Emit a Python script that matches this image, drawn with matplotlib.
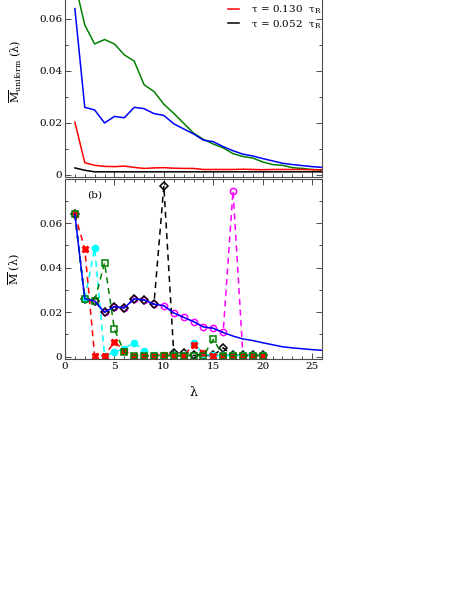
import numpy as np
import matplotlib
matplotlib.use("Agg")
import matplotlib.pyplot as plt
from matplotlib.ticker import MultipleLocator, FuncFormatter

plt.rcParams['font.family'] = ['DejaVu Serif']
plt.rcParams['mathtext.fontset'] = 'dejavuserif'

# ---------------- data ----------------
lam_full = list(range(1, 27))
M_blue = [0.064, 0.026, 0.025, 0.020, 0.0225, 0.022, 0.026, 0.0255, 0.0236, 0.0229,
          0.0197, 0.0177, 0.0158, 0.0134, 0.0128, 0.0109, 0.0093, 0.0080, 0.0073, 0.0063,
          0.0054, 0.0045, 0.0040, 0.0036, 0.0032, 0.0029]
M_green = [0.074, 0.0577, 0.0504, 0.0521, 0.0504, 0.0462, 0.0438, 0.0347, 0.0321, 0.0272,
           0.0237, 0.0199, 0.0161, 0.0137, 0.0119, 0.0104, 0.0082, 0.0071, 0.0065, 0.0050,
           0.0040, 0.0037, 0.0028, 0.0025, 0.0021, 0.0019]
M_red = [0.0203, 0.0047, 0.0037, 0.0033, 0.0032, 0.0034, 0.0029, 0.0025, 0.0027, 0.0028,
         0.0026, 0.0025, 0.0025, 0.0021, 0.0021, 0.0021, 0.0021, 0.0022, 0.0021, 0.0020,
         0.0021, 0.0021, 0.0021, 0.0021, 0.0020, 0.0020]
M_black = [0.0027, 0.0018, 0.0012, 0.0012, 0.0012, 0.0012, 0.0012, 0.0012, 0.0012, 0.0012,
           0.0012, 0.0012, 0.0012, 0.0012, 0.0012, 0.0012, 0.0012, 0.0012, 0.0012, 0.0012,
           0.0012, 0.0012, 0.0012, 0.0012, 0.0012, 0.0012]
legend_labels = ['τ = 0.520  τ$_{\\rm R}$', 'τ = 0.260  τ$_{\\rm R}$',
                 'τ = 0.130  τ$_{\\rm R}$', 'τ = 0.052  τ$_{\\rm R}$']

lam_b = list(range(1, 21))
M_k2 = [0.064, 0.0484, 0.0005, 0.0005, 0.0067, 0.0028, 0.0005, 0.0005, 0.0005, 0.0010,
        0.0005, 0.0005, 0.0055, 0.0017, 0.0005, 0.0005, 0.0005, 0.0005, 0.0005, 0.0005]
M_k3 = [0.064, 0.026, 0.0488, 0.0005, 0.0020, 0.0037, 0.0064, 0.0027, 0.0008, 0.0006,
        0.0006, 0.0006, 0.0063, 0.0012, 0.0006, 0.0006, 0.0006, 0.0006, 0.0006, 0.0006]
M_k4 = [0.064, 0.026, 0.025, 0.0422, 0.0124, 0.0020, 0.0005, 0.0005, 0.0005, 0.0005,
        0.0005, 0.0005, 0.0005, 0.0005, 0.0078, 0.0005, 0.0005, 0.0005, 0.0005, 0.0005]
M_k10 = [0.064, 0.026, 0.025, 0.020, 0.0225, 0.022, 0.026, 0.0255, 0.0236, 0.0767,
         0.0018, 0.0018, 0.0006, 0.0006, 0.0006, 0.0040, 0.0006, 0.0006, 0.0006, 0.0006]
M_k17 = [0.064, 0.026, 0.025, 0.020, 0.0225, 0.022, 0.026, 0.0255, 0.0236, 0.0229,
         0.0197, 0.0177, 0.0158, 0.0134, 0.0128, 0.0109, 0.0746, 0.0005, 0.0005, 0.0005]

# ---------------- figure ----------------
fig = plt.figure(figsize=(4.68, 6.05), dpi=100)
L, W = 65 / 468, 257 / 468
ax1 = fig.add_axes([L, (605 - 176.5) / 605, W, 209.5 / 605])
ax2 = fig.add_axes([L, (605 - 359) / 605, W, 180 / 605])

frame_col = '0.3'
fs = 7.5

def style(ax):
    ax.set_xlim(0, 26)
    ax.xaxis.set_major_locator(MultipleLocator(5))
    ax.xaxis.set_minor_locator(MultipleLocator(1))
    ax.yaxis.set_major_locator(MultipleLocator(0.02))
    ax.yaxis.set_minor_locator(MultipleLocator(0.01))
    ax.tick_params(which='both', direction='in', top=True, right=True,
                   color=frame_col, width=0.7, labelsize=fs, pad=2)
    ax.tick_params(which='major', length=4.5)
    ax.tick_params(which='minor', length=2.5)
    for s in ax.spines.values():
        s.set_color(frame_col)
        s.set_linewidth(0.8)
    ax.yaxis.set_major_formatter(FuncFormatter(lambda v, p: '0' if abs(v) < 1e-9 else f'{v:.2f}'))

style(ax1)
style(ax2)

lw = 1.1
ax1.plot(lam_full, M_green, color='#008000', lw=lw, label=legend_labels[0])
ax1.plot(lam_full, M_blue, color='#0000ff', lw=lw, label=legend_labels[1])
ax1.plot(lam_full, M_red, color='#ff0000', lw=lw, label=legend_labels[2])
ax1.plot(lam_full, M_black, color='black', lw=lw, label=legend_labels[3])
ax1.set_ylim(-0.0006, 0.08)
ax1.tick_params(labelbottom=False)
ax1.set_ylabel(r'$\overline{\rm M}_{\rm uniform}$ (λ)', fontsize=8)
ax1.yaxis.set_label_coords(-0.16, 0.5)
ax1.legend(loc='upper left', bbox_to_anchor=(0.634, 0.965), frameon=False,
           fontsize=fs, handlelength=1.1, handletextpad=1.1, labelspacing=0.2,
           borderpad=0, borderaxespad=0)

dash = (0, (4, 3))
ax2.plot(lam_b, M_k17, color='#ff00ff', lw=lw, ls=dash, marker='o', ms=4.5,
         mfc='none', mec='#ff00ff', mew=1.1)
ax2.plot(lam_b, M_k10, color='black', lw=lw, ls=dash, marker='D', ms=4.5,
         mfc='none', mec='black', mew=1.1)
ax2.plot(lam_b, M_k3, color='#00ffff', lw=lw, ls=dash, marker='o', ms=4.5,
         mfc='#00ffff', mec='#00ffff')
ax2.plot(lam_b, M_k2, color='#ff0000', lw=lw, ls=dash, marker='X', ms=4.5,
         mfc='#ff0000', mec='#ff0000')
ax2.plot(lam_b, M_k4, color='#008000', lw=lw, ls=dash, marker='s', ms=4.5,
         mfc='none', mec='#008000', mew=1.1)
ax2.plot(lam_full, M_blue, color='#0000ff', lw=lw)
ax2.set_ylim(-0.001, 0.0798)
ax2.set_ylabel(r'$\overline{\rm M}$ (λ)', fontsize=8)
ax2.yaxis.set_label_coords(-0.165, 0.5)
ax2.set_xlabel('λ', fontsize=9)
ax2.xaxis.set_label_coords(0.5, -0.15)
ax2.text(2.2, 0.0727, '(b)', fontsize=fs, va='center', ha='left')

fig.savefig('out.png', dpi=100)
